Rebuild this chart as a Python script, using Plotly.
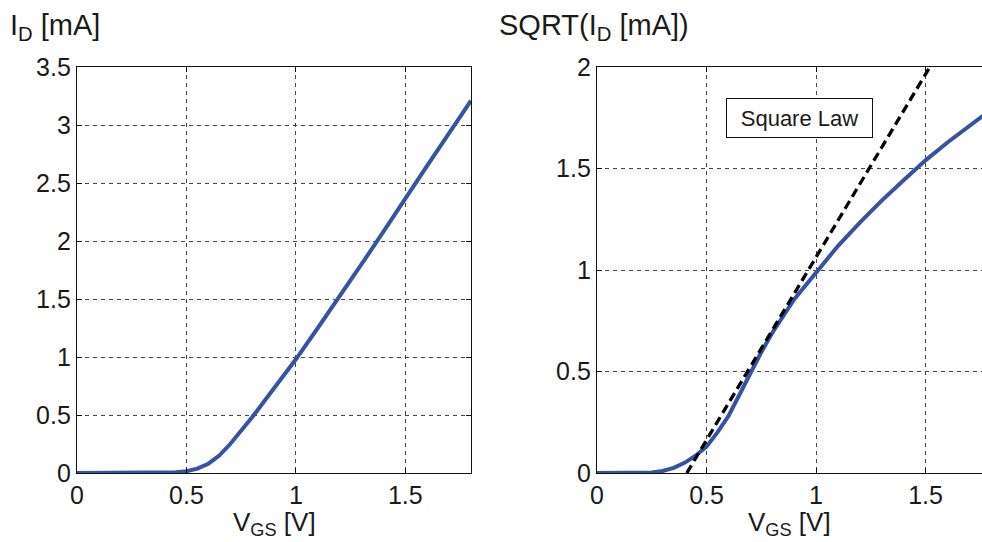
import plotly.graph_objects as go

# Data
vgs = [0.0, 0.1, 0.2, 0.25, 0.3, 0.35, 0.4, 0.45, 0.5, 0.55, 0.6, 0.65, 0.7, 0.75, 0.8,
       0.9, 1.0, 1.1, 1.2, 1.3, 1.4, 1.5, 1.6, 1.7, 1.8]
id_ma = [0.0, 0.0, 0.0, 0.0, 0.0, 0.0, 0.002, 0.006, 0.015, 0.038, 0.08, 0.15, 0.25, 0.36, 0.48,
         0.73, 0.98, 1.25, 1.52, 1.80, 2.08, 2.37, 2.65, 2.93, 3.21]
sqrt_id = [0.0, 0.0, 0.0, 0.003, 0.01, 0.025, 0.05, 0.085, 0.13, 0.2, 0.28, 0.38, 0.49, 0.595, 0.69,
           0.855, 0.99, 1.118, 1.233, 1.342, 1.442, 1.54, 1.628, 1.712, 1.79]
law_x = [0.41, 1.52]
law_y = [0.0, 2.0]

xticks = [0, 0.5, 1, 1.5]
xtick_text = ["0", "0.5", "1", "1.5"]
yticks_left = [0, 0.5, 1, 1.5, 2, 2.5, 3, 3.5]
ytick_left_text = ["0", "0.5", "1", "1.5", "2", "2.5", "3", "3.5"]
yticks_right = [0, 0.5, 1, 1.5, 2]
ytick_right_text = ["0", "0.5", "1", "1.5", "2"]

BLUE = "#3652A6"
FONT = "Liberation Sans, Arial, sans-serif"
W, H = 982, 542

fig = go.Figure()
fig.add_trace(go.Scatter(x=vgs, y=id_ma, mode="lines", line=dict(color=BLUE, width=4),
                         xaxis="x", yaxis="y", showlegend=False))
fig.add_trace(go.Scatter(x=vgs, y=sqrt_id, mode="lines", line=dict(color=BLUE, width=4),
                         xaxis="x2", yaxis="y2", showlegend=False))
fig.add_trace(go.Scatter(x=law_x, y=law_y, mode="lines",
                         line=dict(color="black", width=3.3, dash="9px,5px"),
                         xaxis="x2", yaxis="y2", showlegend=False))

ydom = [69 / H, 475 / H]
grid = dict(showgrid=True, gridcolor="#444", gridwidth=1, griddash="4px,4px",
            zeroline=False, showline=True, linecolor="#111", linewidth=1.3,
            ticks="inside", ticklen=5, tickcolor="#111", automargin=False,
            tickfont=dict(family=FONT, size=25, color="#1a1a1a"))

fig.update_layout(
    width=W, height=H, margin=dict(l=0, r=0, t=0, b=0, autoexpand=False),
    paper_bgcolor="white", plot_bgcolor="white",
    xaxis=dict(domain=[77 / W, 471 / W], range=[0, 1.8], tickvals=xticks, ticktext=xtick_text,
               mirror="ticks", anchor="y", **grid),
    yaxis=dict(domain=ydom, range=[0, 3.5], tickvals=yticks_left, ticktext=ytick_left_text,
               mirror="ticks", anchor="x", **grid),
    xaxis2=dict(domain=[597 / W, 1.0], range=[0, 1.758], tickvals=xticks, ticktext=xtick_text,
                mirror="ticks", anchor="y2", **grid),
    yaxis2=dict(domain=ydom, range=[0, 2.0], tickvals=yticks_right, ticktext=ytick_right_text,
                mirror=False, anchor="x2", **grid),
    annotations=[
        dict(text="I<sub>D</sub> [mA]", x=8 / W, y=1 - 7 / H, xref="paper", yref="paper",
             xanchor="left", yanchor="top", showarrow=False,
             font=dict(family=FONT, size=29, color="#1a1a1a")),
        dict(text="SQRT(I<sub>D</sub> [mA])", x=497 / W, y=1 - 7 / H, xref="paper", yref="paper",
             xanchor="left", yanchor="top", showarrow=False,
             font=dict(family=FONT, size=29, color="#1a1a1a")),
        dict(text="V<sub>GS</sub> [V]", x=(77 + 471) / 2 / W, y=0, xref="paper", yref="paper",
             xanchor="center", yanchor="bottom", showarrow=False,
             font=dict(family=FONT, size=26, color="#1a1a1a")),
        dict(text="V<sub>GS</sub> [V]", x=(597 + 982) / 2 / W, y=0, xref="paper", yref="paper",
             xanchor="center", yanchor="bottom", showarrow=False,
             font=dict(family=FONT, size=26, color="#1a1a1a")),
        dict(text="Square Law", x=0.925, y=1.749, xref="x2", yref="y2",
             xanchor="center", yanchor="middle", showarrow=False,
             width=133, height=26,
             bordercolor="#111", borderwidth=1, borderpad=6, bgcolor="white",
             font=dict(family=FONT, size=22, color="#1a1a1a")),
    ],
)

fig.write_html("out.html", config={"displayModeBar": False},
               post_script="document.body.style.margin='0px';")
